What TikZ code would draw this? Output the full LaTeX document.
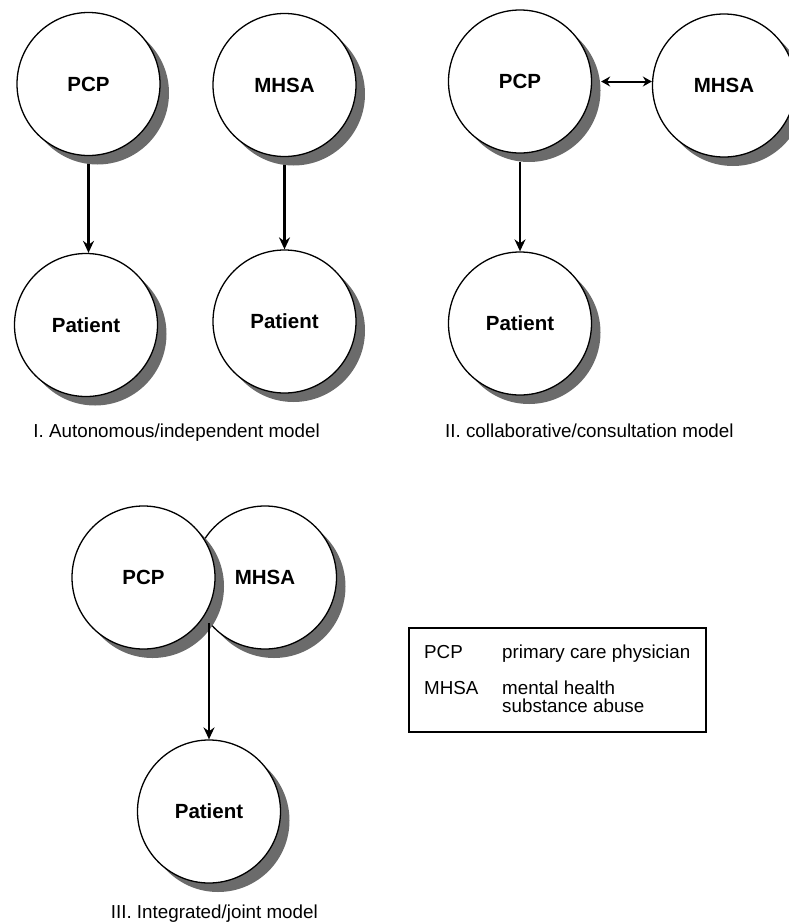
\documentclass[tikz,border=0pt]{standalone}
\usepackage{fontspec}
\setmainfont{Liberation Sans}
\usepackage{tikz}
\usetikzlibrary{shadows}
\usetikzlibrary{arrows.meta}

\definecolor{shadowgray}{gray}{0.42}

\tikzset{
    circ/.style={circle, draw, line width=1.3pt, fill=white, minimum size=143pt, inner sep=0pt,
        font=\fontsize{20.5}{24}\selectfont\bfseries,
        drop shadow={shadow xshift=9pt, shadow yshift=-9pt, fill=shadowgray, opacity=1}},
    arr/.style={line width=2.7pt, -{Stealth[length=12pt, width=11pt, inset=4pt]}},
    dbl/.style={line width=2pt, {Stealth[length=9pt, width=10pt, inset=3pt]}-{Stealth[length=9pt, width=10pt, inset=3pt]}},
    modelcap/.style={font=\fontsize{18.8}{22}\selectfont, inner sep=0pt},
    keytext/.style={font=\fontsize{18.8}{18}\selectfont, inner sep=0pt, anchor=base west, align=left},
}

\begin{document}
\begin{tikzpicture}[x=10pt, y=-10pt]
    \useasboundingbox (0, 0) rectangle (78.8, 92.4);
    % I. autonomous model
    \node[circ] (pcp1) at (8.85, 8.4) {PCP};
    \node[circ] (mhsa1) at (28.45, 8.5) {MHSA};
    \node[circ] (pat1a) at (8.6, 32.5) {Patient};
    \node[circ] (pat1b) at (28.45, 32.15) {Patient};
    \draw[arr, shorten <=8pt] (pcp1.south) -- (pcp1.south |- pat1a.north);
    \draw[arr, shorten <=8pt] (mhsa1.south) -- (pat1b.north);
    \node[modelcap, anchor=base east] (capI) at (32, 43.7) {I. Autonomous/independent model};
    % II. collaborative model
    \node[circ] (pcp2) at (52, 8.15) {PCP};
    \node[circ] (mhsa2) at (72.4, 8.55) {MHSA};
    \node[circ] (pat2) at (52, 32.35) {Patient};
    \draw[dbl, shorten <=9pt] (pcp2.east) -- (pcp2.east -| mhsa2.west);
    \draw[arr, shorten <=8pt] (pcp2.south) -- (pat2.north);
    \node[modelcap, anchor=base west] (capII) at (44.5, 43.7) {II. collaborative/consultation model};
    % III. integrated model
    \node[circ] (mhsa3) at (26.5, 57.75) {MHSA};
    \node[circ] (pcp3) at (14.35, 57.75) {PCP};
    \node[circ] (pat3) at (20.9, 81.15) {Patient};
    \coordinate (join) at (20.9, 62.3); % where the two circles meet below
    \draw[arr] (join) -- (pat3.north);
    \node[modelcap, anchor=base east] (capIII) at (31.8, 91.8) {III. Integrated/joint model};
    % legend
    \node[draw, line width=2pt, minimum width=297pt, minimum height=104pt, anchor=north west] (legend) at (40.8, 62.7) {};
    \node[keytext] (kpcp) at (42.4, 65.8) {PCP};
    \node[keytext] (kpcptxt) at (50.2, 65.8) {primary care physician};
    \node[keytext] (kmhsa) at (42.4, 69.4) {MHSA};
    \node[keytext] (kmhsatxt) at (50.2, 71.2) {mental health\\substance abuse};
\end{tikzpicture}
\end{document}
